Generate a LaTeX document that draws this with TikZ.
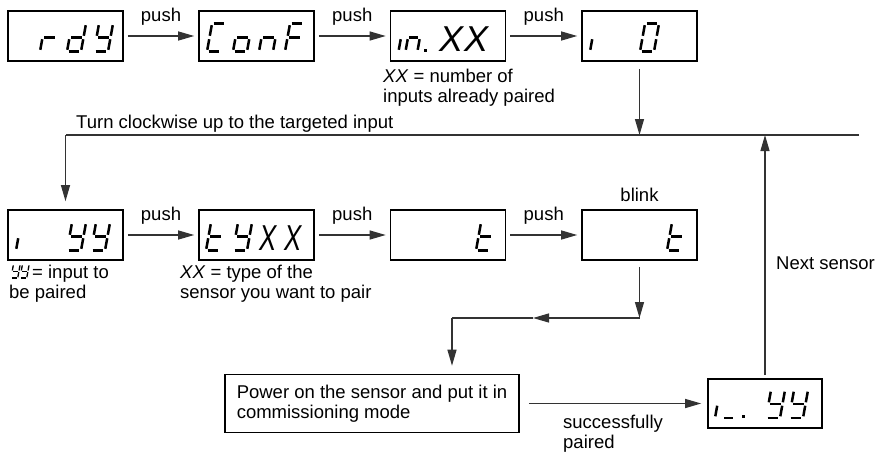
\documentclass[tikz,border=0pt]{standalone}
\usepackage{fontspec}
\setmainfont{Liberation Sans}
\usetikzlibrary{arrows.meta}
\usetikzlibrary{calc}
\tikzset{>={Triangle[length=16pt,width=9pt]}}
\colorlet{linecol}{black!80}
\tikzset{lcd/.style={draw, line width=1.6pt, minimum width=115pt, minimum height=50pt, inner sep=0pt}}
\tikzset{seg/.style={line width=2.5pt, line cap=butt}}
\tikzset{txt/.style={inner sep=0pt, font=\fontsize{18.5}{20.5}\selectfont, align=left}}
\tikzset{bigx/.style={anchor=base west, inner sep=0pt, font=\fontsize{36}{36}\selectfont\itshape}}
\tikzset{link/.style={->, line width=1.2pt, draw=linecol}}
\tikzset{
  pics/sega/.style={code={\draw[seg] (1.7,-28) -- (12.3,-28);}},
  pics/segb/.style={code={\draw[seg] (14,-26.3) -- (14,-15.7);}},
  pics/segc/.style={code={\draw[seg] (14,-12.3) -- (14,-1.7);}},
  pics/segd/.style={code={\draw[seg] (1.7,0) -- (12.3,0);}},
  pics/sege/.style={code={\draw[seg] (0,-1.7) -- (0,-12.3);}},
  pics/segf/.style={code={\draw[seg] (0,-15.7) -- (0,-26.3);}},
  pics/segg/.style={code={\draw[seg] (1.7,-14) -- (12.3,-14);}},
}
% one digit of the display: [options]{x}{y of bottom}{segments}
\newcommand\lcd[4][]{%
  \begin{scope}[shift={(#2,#3)}, xslant=0.18, #1]
    \foreach \s in {#4} {\pic[transform shape] {seg\s};}
  \end{scope}}
\newcommand\lcddot[2]{\fill (#1,#2) rectangle +(3,-3);}

\begin{document}
\begin{tikzpicture}[x=1pt, y=-1pt]
\useasboundingbox (0,0) rectangle (876,453);

% first row
\node[lcd] (rdy) at (65.5,36) {};
\node[lcd] (conf) at (256.5,36) {};
\node[lcd] (inxx) at (448,36) {};
\node[lcd] (izero) at (639.5,36) {};

\lcd{40}{51.5}{e,g}
\lcd{67}{51.5}{b,c,d,e,g}
\lcd{94}{51.5}{b,c,d,f,g}

\lcd{207}{51.5}{a,d,e,f}
\lcd{233}{51.5}{c,d,e,g}
\lcd{259}{51.5}{c,e,g}
\lcd{285}{51.5}{a,e,f,g}

\lcd{398.5}{51.5}{e}
\lcd[xscale=0.85]{405.5}{51.5}{c,e,g}
\lcddot{423.5}{51.5}
\node[bigx] (inx1) at (439,51.5) {X};
\node[bigx] (inx2) at (464,51.5) {X};

\lcd{590}{51.5}{e}
\lcd{640}{51.5}{a,b,c,d,e,f}

\draw[link, shorten <=4pt, shorten >=4pt] (rdy) -- node[txt, above=10pt] (push1) {push} (conf);
\draw[link, shorten <=4pt, shorten >=4pt] (conf) -- node[txt, above=10pt] (push2) {push} (inxx);
\draw[link, shorten <=4pt, shorten >=4pt] (inxx) -- node[txt, above=10pt] (push3) {push} (izero);
\node[txt, anchor=north west] (inxxnote) at (383,68.5) {\textit{XX} = number of\\inputs already paired};

% second row
\node[lcd] (iyy) at (65.5,235) {};
\node[lcd] (type) at (256.5,235) {};
\node[lcd] (tset) at (448,235) {};
\node[lcd] (tblink) at (639.5,235) {};

\lcd{16}{250.5}{e}
\lcd{67}{250.5}{b,c,d,f,g}
\lcd{91}{250.5}{b,c,d,f,g}

\lcd{206}{250.5}{d,e,f,g}
\lcd{233}{250.5}{b,c,d,f,g}
\node[bigx, xscale=0.72] (typex1) at (259,250.5) {X};
\node[bigx, xscale=0.72] (typex2) at (284,250.5) {X};

\lcd{476}{250.5}{d,e,f,g}
\lcd{667}{250.5}{d,e,f,g}

\draw[link, shorten <=4pt, shorten >=4pt] (iyy) -- node[txt, above=10pt] (push4) {push} (type);
\draw[link, shorten <=4pt, shorten >=4pt] (type) -- node[txt, above=10pt] (push5) {push} (tset);
\draw[link, shorten <=4pt, shorten >=4pt] (tset) -- node[txt, above=10pt] (push6) {push} (tblink);
\node[txt, above=7pt] (blink) at (tblink.north) {blink};

\lcd[scale=0.48, seg/.style={line width=1.3pt}]{11}{278}{b,c,d,f,g}
\lcd[scale=0.48, seg/.style={line width=1.3pt}]{20}{278}{b,c,d,f,g}
\node[txt, anchor=north west] (iyynote) at (9,264.5) {\hspace*{23pt}= input to\\be paired};
\node[txt, anchor=north west] (typenote) at (180,264.5) {\textit{XX} = type of the\\sensor you want to pair};

% loop back to the second row
\coordinate (loopR) at (859,135);
\coordinate (loopL) at (65.5,135);
\draw[link, shorten <=7pt] (izero) -- (izero |- loopR);
\draw[linecol, line width=1.2pt] (loopR) -- (loopL);
\draw[link, shorten >=8pt] (loopL) -- (iyy);
\node[txt, anchor=base west] (turn) at (76,128) {Turn clockwise up to the targeted input};

% pairing
\node[draw, line width=1.6pt, txt, minimum width=294pt, minimum height=58pt] (power) at (372,403.5) {Power on the sensor and put it in\\commissioning mode};
\node[lcd, minimum width=114pt, minimum height=49pt] (done) at (765,403.5) {};

\lcd{715}{418}{e}
\lcd[xscale=0.85]{723}{418}{d}
\lcddot{742}{418}
\lcd{766}{418}{b,c,d,f,g}
\lcd{789}{418}{b,c,d,f,g}

\coordinate (splitR) at (639.5,318);
\coordinate (splitM) at (533,318);
\coordinate (splitL) at (452,318);
\draw[link, shorten <=6pt] (tblink) -- (splitR);
\draw[link] (splitR) -- (splitM);
\draw[linecol, line width=1.2pt] (splitM) -- (splitL);
\draw[link, shorten >=8pt] (splitL) -- (splitL |- power.north);

\draw[link, shorten <=9pt, shorten >=6pt] (power) -- (done);
\node[txt, anchor=north west] (paired) at (563,414.5) {successfully\\paired};

\draw[link, shorten <=3pt] (done) -- (done |- loopR);
\node[txt, anchor=base west] (next) at (776,269) {Next sensor};
\end{tikzpicture}
\end{document}
